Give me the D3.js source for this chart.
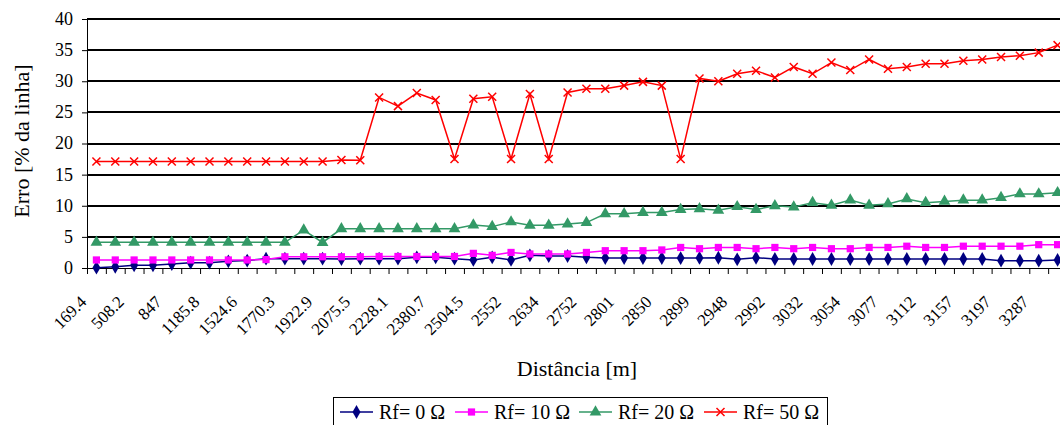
<!DOCTYPE html>
<head>
<meta charset="utf-8">
<style>body{margin:0}</style>
</head>
<body>
<svg width="1060" height="425"></svg>
<script src="https://cdn.jsdelivr.net/npm/d3@7"></script>
<script>

// tick labels shown on every second category
const tickLabels = ['169.4', '508.2', '847', '1185.8', '1524.6', '1770.3', '1922.9', '2075.5',
  '2228.1', '2380.7', '2504.5', '2552', '2634', '2752', '2801', '2850', '2899', '2948',
  '2992', '3032', '3054', '3077', '3112', '3157', '3197', '3287']
const nCategories = 52

const rf0 = [0.05, 0.2, 0.43, 0.43, 0.64, 0.86, 0.86, 1.07, 1.2, 1.5, 1.5, 1.5, 1.5, 1.45,
  1.5, 1.5, 1.5, 1.71, 1.71, 1.5, 1.29, 1.71, 1.29, 2.03, 1.93, 1.93, 1.71, 1.6, 1.6, 1.6,
  1.6, 1.6, 1.62, 1.65, 1.39, 1.65, 1.45, 1.45, 1.45, 1.45, 1.45, 1.45, 1.45, 1.45, 1.45,
  1.45, 1.45, 1.45, 1.18, 1.18, 1.18, 1.29]
const rf10 = [1.29, 1.29, 1.29, 1.29, 1.29, 1.29, 1.29, 1.29, 1.29, 1.35, 1.8, 1.8, 1.8, 1.8,
  1.8, 1.85, 1.85, 1.85, 1.85, 1.85, 2.35, 2.03, 2.5, 2.25, 2.25, 2.25, 2.5, 2.78, 2.78, 2.78,
  2.9, 3.3, 3.1, 3.3, 3.3, 3.1, 3.3, 3.1, 3.3, 3.1, 3.1, 3.3, 3.3, 3.5, 3.3, 3.3, 3.5, 3.5,
  3.5, 3.5, 3.75, 3.75]
const rf20 = [4.12, 4.12, 4.12, 4.12, 4.12, 4.12, 4.12, 4.12, 4.12, 4.12, 4.12, 6.1, 4.1, 6.3,
  6.3, 6.3, 6.3, 6.3, 6.3, 6.3, 6.9, 6.65, 7.4, 6.85, 6.85, 7.07, 7.3, 8.7, 8.7, 8.9, 8.9,
  9.4, 9.5, 9.27, 9.85, 9.4, 10.0, 9.8, 10.5, 10.07, 10.9, 10.07, 10.3, 11.1, 10.5, 10.7,
  10.9, 10.9, 11.3, 11.9, 11.9, 12.1]
const rf50 = [17.1, 17.1, 17.1, 17.1, 17.1, 17.1, 17.1, 17.1, 17.1, 17.1, 17.1, 17.1, 17.1,
  17.35, 17.3, 27.4, 26.0, 28.1, 27.0, 17.5, 27.2, 27.5, 17.5, 27.95, 17.5, 28.2, 28.8, 28.8,
  29.3, 29.9, 29.3, 17.5, 30.45, 30.0, 31.2, 31.7, 30.6, 32.3, 31.2, 33.0, 31.8, 33.5, 32.0,
  32.3, 32.8, 32.8, 33.3, 33.5, 33.9, 34.1, 34.6, 35.8]

const series = [
  {name: 'Rf= 0 \u03A9', values: rf0, color: '#000080', marker: 'diamond'},
  {name: 'Rf= 10 \u03A9', values: rf10, color: '#FF00FF', marker: 'square'},
  {name: 'Rf= 20 \u03A9', values: rf20, color: '#339966', marker: 'triangle'},
  {name: 'Rf= 50 \u03A9', values: rf50, color: '#FF0000', marker: 'cross'}
]

const plot = {left: 87, right: 1067, top: 19, bottom: 268}

let svg = d3.select('svg')

let x = d3.scaleLinear().domain([0, nCategories]).range([plot.left, plot.right])
let y = d3.scaleLinear().domain([0, 40]).range([plot.bottom, plot.top])

function label(parent, size) {
  return parent.append('text')
    .attr('font-family', 'Times New Roman')
    .attr('font-size', size)
}

// horizontal grid
svg.append('g')
  .selectAll('line')
    .data(d3.range(5, 41, 5))
  .enter()
    .append('line')
      .attr('x1', plot.left)
      .attr('x2', plot.right)
      .attr('y1', d => Math.round(y(d)))
      .attr('y2', d => Math.round(y(d)))
      .attr('stroke', '#000')
      .attr('stroke-width', 2)
      .attr('shape-rendering', 'crispEdges')

// axes: lines and tick marks from the axis generator, labels drawn separately
svg.append('g')
  .attr('transform', `translate(${plot.left},0)`)
  .call(d3.axisLeft(y).tickValues(d3.range(0, 41, 5)).tickSize(5).tickSizeOuter(0).tickFormat(''))

svg.append('g')
  .attr('transform', `translate(0,${plot.bottom})`)
  .call(d3.axisBottom(x).tickValues(d3.range(0, nCategories + 1)).tickSize(6).tickSizeOuter(0).tickFormat(''))

d3.range(0, 41, 5).forEach(v => {
  label(svg, 18)
    .attr('x', plot.left - 14)
    .attr('y', y(v))
    .attr('dy', '0.33em')
    .attr('text-anchor', 'end')
    .text(v)
})

tickLabels.forEach((t, i) => {
  label(svg, 17)
    .attr('transform', `translate(${x(i * 2 + 0.5) - 9}, ${plot.bottom + 35}) rotate(-45)`)
    .attr('text-anchor', 'end')
    .text(t)
})

// titles
label(svg, 22)
  .attr('transform', `translate(29, 141) rotate(-90)`)
  .attr('text-anchor', 'middle')
  .text('Erro [% da linha]')

label(svg, 22)
  .attr('x', (plot.left + plot.right) / 2)
  .attr('y', 376)
  .attr('text-anchor', 'middle')
  .text('Distância [m]')

function drawMarker(sel, s) {
  if (s.marker === 'cross') {
    sel.append('path')
      .attr('d', 'M-4,-4L4,4M-4,4L4,-4')
      .attr('stroke', s.color)
      .attr('stroke-width', 1.5)
      .attr('fill', 'none')
  } else {
    const type = {diamond: d3.symbolDiamond, square: d3.symbolSquare, triangle: d3.symbolTriangle}[s.marker]
    const size = {diamond: 55, square: 52, triangle: 60}[s.marker]
    sel.append('path')
      .attr('d', d3.symbol().type(type).size(size)())
      .attr('fill', s.color)
  }
}

let line = d3.line()
  .x((d, i) => x(i + 0.5))
  .y(d => y(d))

series.forEach(s => {
  let g = svg.append('g')
  g.append('path')
    .datum(s.values)
    .attr('d', line)
    .attr('fill', 'none')
    .attr('stroke', s.color)
    .attr('stroke-width', 1.5)
  g.selectAll('g')
    .data(s.values)
  .enter()
    .append('g')
      .attr('transform', (d, i) => `translate(${x(i + 0.5)},${y(d)})`)
      .each(function() { drawMarker(d3.select(this), s) })
})

// legend
let legend = svg.append('g')
legend.append('rect')
  .attr('x', 333.5)
  .attr('y', 397.5)
  .attr('width', 494)
  .attr('height', 40)
  .attr('fill', '#fff')
  .attr('stroke', '#000')

const legendX = [340, 455, 579, 704]
series.forEach((s, i) => {
  let item = legend.append('g').attr('transform', `translate(${legendX[i]}, 412)`)
  item.append('line')
    .attr('x1', 0).attr('x2', 33)
    .attr('stroke', s.color)
    .attr('stroke-width', 1.5)
  let m = item.append('g').attr('transform', 'translate(16.5,0)')
  drawMarker(m, s)
  label(item, 20)
    .attr('x', 39)
    .attr('y', 7)
    .text(s.name)
})

</script>
</body>
